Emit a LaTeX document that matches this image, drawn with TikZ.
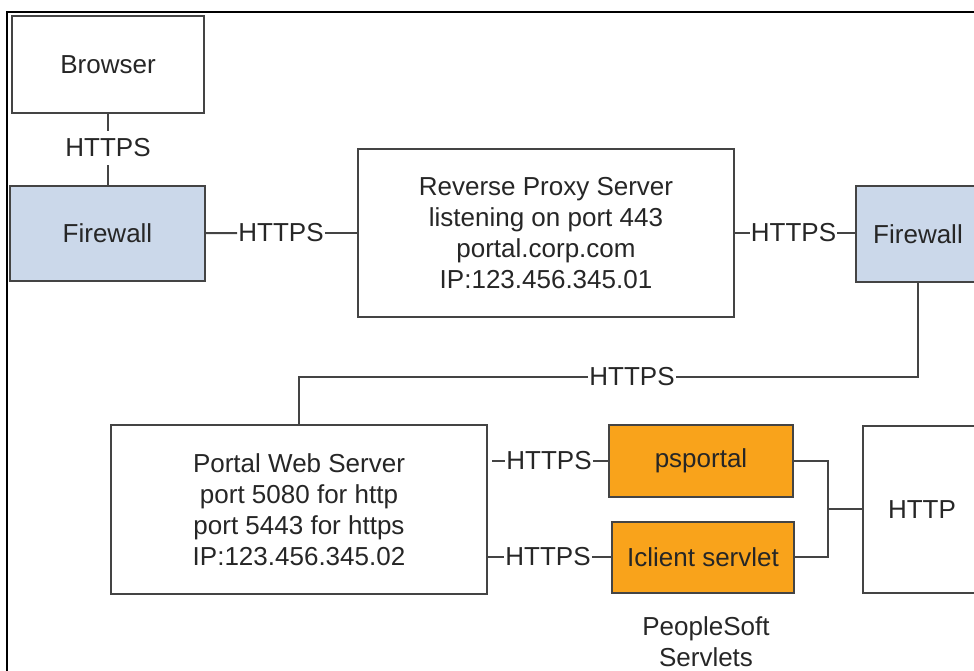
\documentclass[tikz,border=0pt]{standalone}
\usepackage{fontspec}
\setmainfont{Liberation Sans}
\usepackage{tikz}
\usetikzlibrary{positioning}
\definecolor{fwblue}{HTML}{CBD8EA}
\definecolor{psorange}{HTML}{F9A31B}
\definecolor{edge}{HTML}{444444}

\begin{document}
\begin{tikzpicture}[
  x=1pt, y=-1pt,
  font=\fontsize{26}{31}\selectfont,
  srvbox/.style={
    draw=edge, line width=2pt, fill=white,
    align=center, inner sep=0pt, text=black!85
  },
  fwbox/.style={srvbox, fill=fwblue},
  psbox/.style={srvbox, fill=psorange},
  lnk/.style={draw=edge, line width=2pt},
  labl/.style={text=black!85, inner xsep=1pt, inner ysep=8pt}
]

\useasboundingbox (0,0) rectangle (974,671);
\clip (0,0) rectangle (974,671);

% screenshot frame
\draw[black, line width=1.3pt] (7,671) -- (7,12) -- (974,12);

\node[srvbox, minimum width=192, minimum height=97] (browser) at (108,64.5) {Browser};
\node[fwbox, minimum width=195, minimum height=95] (fw1) at (107.5,233.5) {Firewall};

\node[srvbox, minimum width=376, minimum height=168] (proxy) at (546,233) {
  Reverse Proxy Server\\
  listening on port 443\\
  portal.corp.com\\
  IP:123.456.345.01
};

\node[fwbox, minimum width=124, minimum height=96] (fw2) at (918,234) {Firewall};

\node[srvbox, minimum width=376, minimum height=169] (portal) at (299,509.5) {
  Portal Web Server\\
  port 5080 for http\\
  port 5443 for https\\
  IP:123.456.345.02
};

\node[psbox, minimum width=184, minimum height=72] (psportal) at (701,461) {psportal};
\node[psbox, minimum width=182, minimum height=71] (iclient) at (703,557) {Iclient servlet};

\node[srvbox, minimum width=118, minimum height=167] (http) at (922,509.5) {HTTP};

\node[labl, align=center] (cap) at (706,641.5) {PeopleSoft\\Servlets};

% protocol labels
\node[labl] (h1) at (108,148) {HTTPS};
\node[labl] (h2) at (281,233) {HTTPS};
\node[labl] (h3) at (793.5,233) {HTTPS};
\node[labl] (h4) at (632,377) {HTTPS};
\node[labl] (h5) at (549,461) {HTTPS};
\node[labl] (h6) at (548,557) {HTTPS};

\coordinate (jn) at (828,509);

\draw[lnk] (browser) -- (h1);
\draw[lnk] (h1) -- (fw1.north -| h1);

\draw[lnk] (fw1) -- (h2);
\draw[lnk] (h2) -- (proxy);

\draw[lnk] (proxy.east |- h3) -- (h3);
\draw[lnk] (h3) -- (fw2.west |- h3);

\draw[lnk] (fw2.south) |- (h4.east);
\draw[lnk] (h4.west) -| (portal.north);

\draw[lnk, shorten <=4pt] (portal.east |- h5) -- (h5);
\draw[lnk] (h5) -- (psportal);
\draw[lnk] (portal.east |- h6) -- (h6);
\draw[lnk] (h6) -- (iclient);

\draw[lnk] (psportal.east) -| (jn) |- (iclient.east);
\draw[lnk] (jn) -- (http.west |- jn);

\end{tikzpicture}
\end{document}
